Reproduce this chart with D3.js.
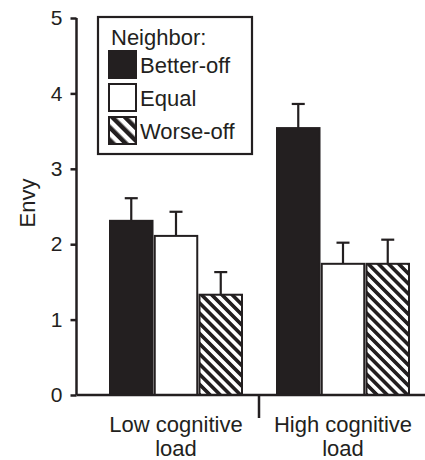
<!DOCTYPE html>
<html>
	<head>
		<meta charset="utf-8">
		<style type="text/css">
			body { margin: 0; background: #fff; }
			svg { display: block; font-family: "Liberation Sans", Arial, sans-serif; }
		</style>
	</head>
	<body>
		<script src="https://cdn.jsdelivr.net/npm/d3@7"></script>
		<script type="text/javascript">
			var groups = ["Low cognitive load", "High cognitive load"],
				groupLines = [["Low cognitive", "load"], ["High cognitive", "load"]],
				series = ["Better-off", "Equal", "Worse-off"],
				lowMeans = [2.31, 2.11, 1.33],
				lowErrors = [0.30, 0.32, 0.30],
				highMeans = [3.54, 1.74, 1.74],
				highErrors = [0.32, 0.28, 0.32],
				yTicks = [0, 1, 2, 3, 4, 5];

			var width = 425,
				height = 460,
				ink = "#231f20";

			var rows = [];
			groups.forEach(function(g, gi) {
				var m = gi == 0 ? lowMeans : highMeans,
					e = gi == 0 ? lowErrors : highErrors;
				series.forEach(function(s, si) {
					rows.push({group: g, series: s, value: m[si], err: e[si]});
				});
			});

			var svg = d3.select("body").append("svg")
				.attr("width", width)
				.attr("height", height);

			var defs = svg.append("defs");
			// stripes going top-left to bottom-right
			var hatch = defs.append("pattern")
				.attr("id", "hatch")
				.attr("patternUnits", "userSpaceOnUse")
				.attr("width", 7.2).attr("height", 7.2)
				.attr("patternTransform", "rotate(-45)");
			hatch.append("rect").attr("width", 7.2).attr("height", 7.2).attr("fill", "#fff");
			hatch.append("rect").attr("width", 3.6).attr("height", 7.2).attr("fill", ink);

			var hatchBig = defs.append("pattern")
				.attr("id", "hatchBig")
				.attr("patternUnits", "userSpaceOnUse")
				.attr("width", 9).attr("height", 9)
				.attr("patternTransform", "rotate(-45)");
			hatchBig.append("rect").attr("width", 9).attr("height", 9).attr("fill", "#fff");
			hatchBig.append("rect").attr("width", 4.5).attr("height", 9).attr("fill", ink);

			var fills = {"Better-off": ink, "Equal": "#fff", "Worse-off": "url(#hatch)"};

			var y = d3.scaleLinear().domain([0, 5]).range([395, 18]);

			var x0 = d3.scaleBand().domain(groups).range([92, 426]);

			var x1 = d3.scaleBand().domain(series)
				.range([18, 150])
				.paddingInner(0.05);

			// y axis
			var yAxis = svg.append("g")
				.attr("transform", "translate(76.5,0)")
				.call(d3.axisLeft(y).tickValues(yTicks).tickSize(6).tickPadding(8).tickFormat(d3.format("d")));
			yAxis.selectAll("path, line").attr("stroke", ink).attr("stroke-width", 2.5);
			yAxis.select(".domain").attr("d", "M0," + y(5) + "V" + y(0));
			yAxis.selectAll("text")
				.attr("fill", ink)
				.style("font-size", "21px")
				.style("font-family", "Liberation Sans, Arial, sans-serif");

			svg.append("text")
				.attr("transform", "translate(35,203)rotate(-90)")
				.attr("text-anchor", "middle")
				.attr("fill", ink)
				.style("font-size", "22px")
				.text("Envy");

			// bars
			var bars = svg.append("g").selectAll("g.bar")
				.data(rows)
				.enter().append("g")
				.attr("class", "bar")
				.attr("transform", function(d) { return "translate(" + (x0(d.group) + x1(d.series)) + ",0)"; });

			bars.append("line")
				.attr("x1", x1.bandwidth() / 2).attr("x2", x1.bandwidth() / 2)
				.attr("y1", function(d) { return y(d.value); })
				.attr("y2", function(d) { return y(d.value + d.err); })
				.attr("stroke", ink).attr("stroke-width", 2.2);

			bars.append("line")
				.attr("x1", x1.bandwidth() / 2 - 6.5).attr("x2", x1.bandwidth() / 2 + 6.5)
				.attr("y1", function(d) { return y(d.value + d.err); })
				.attr("y2", function(d) { return y(d.value + d.err); })
				.attr("stroke", ink).attr("stroke-width", 2.2);

			bars.append("rect")
				.attr("x", 0)
				.attr("y", function(d) { return y(d.value); })
				.attr("width", x1.bandwidth())
				.attr("height", function(d) { return y(0) - y(d.value); })
				.attr("fill", function(d) { return fills[d.series]; })
				.attr("stroke", ink)
				.attr("stroke-width", 2);

			// x baseline and group divider
			svg.append("line")
				.attr("x1", 76.5).attr("x2", 425)
				.attr("y1", y(0)).attr("y2", y(0))
				.attr("stroke", ink).attr("stroke-width", 2.5);

			svg.append("line")
				.attr("x1", x0(groups[1])).attr("x2", x0(groups[1]))
				.attr("y1", y(0)).attr("y2", y(0) + 23)
				.attr("stroke", ink).attr("stroke-width", 2.5);

			var labels = svg.append("g").selectAll("text")
				.data(groups)
				.enter().append("text")
				.attr("text-anchor", "middle")
				.attr("fill", ink)
				.style("font-size", "22px")
				.attr("transform", function(d) { return "translate(" + (x0(d) + 84) + ",432)"; });
			labels.selectAll("tspan")
				.data(function(d, i) { return groupLines[i]; })
				.enter().append("tspan")
				.attr("x", 0)
				.attr("dy", function(d, i) { return i == 0 ? 0 : 24; })
				.text(function(d) { return d; });

			// legend
			var legend = svg.append("g");
			legend.append("rect")
				.attr("x", 98).attr("y", 17)
				.attr("width", 154).attr("height", 137)
				.attr("fill", "#fff")
				.attr("stroke", ink).attr("stroke-width", 2.2);
			legend.append("text")
				.attr("x", 111).attr("y", 45)
				.attr("fill", ink)
				.style("font-size", "22px")
				.text("Neighbor:");

			var legendFills = {"Better-off": ink, "Equal": "#fff", "Worse-off": "url(#hatchBig)"};
			var items = legend.selectAll("g.item")
				.data(series)
				.enter().append("g")
				.attr("class", "item")
				.attr("transform", function(d, i) { return "translate(109," + (51 + i * 33) + ")"; });
			items.append("rect")
				.attr("width", 27).attr("height", 27)
				.attr("fill", function(d) { return legendFills[d]; })
				.attr("stroke", ink).attr("stroke-width", 2);
			items.append("text")
				.attr("x", 31).attr("y", 22)
				.attr("fill", ink)
				.style("font-size", "22px")
				.text(function(d) { return d; });
		</script>
	</body>
</html>
